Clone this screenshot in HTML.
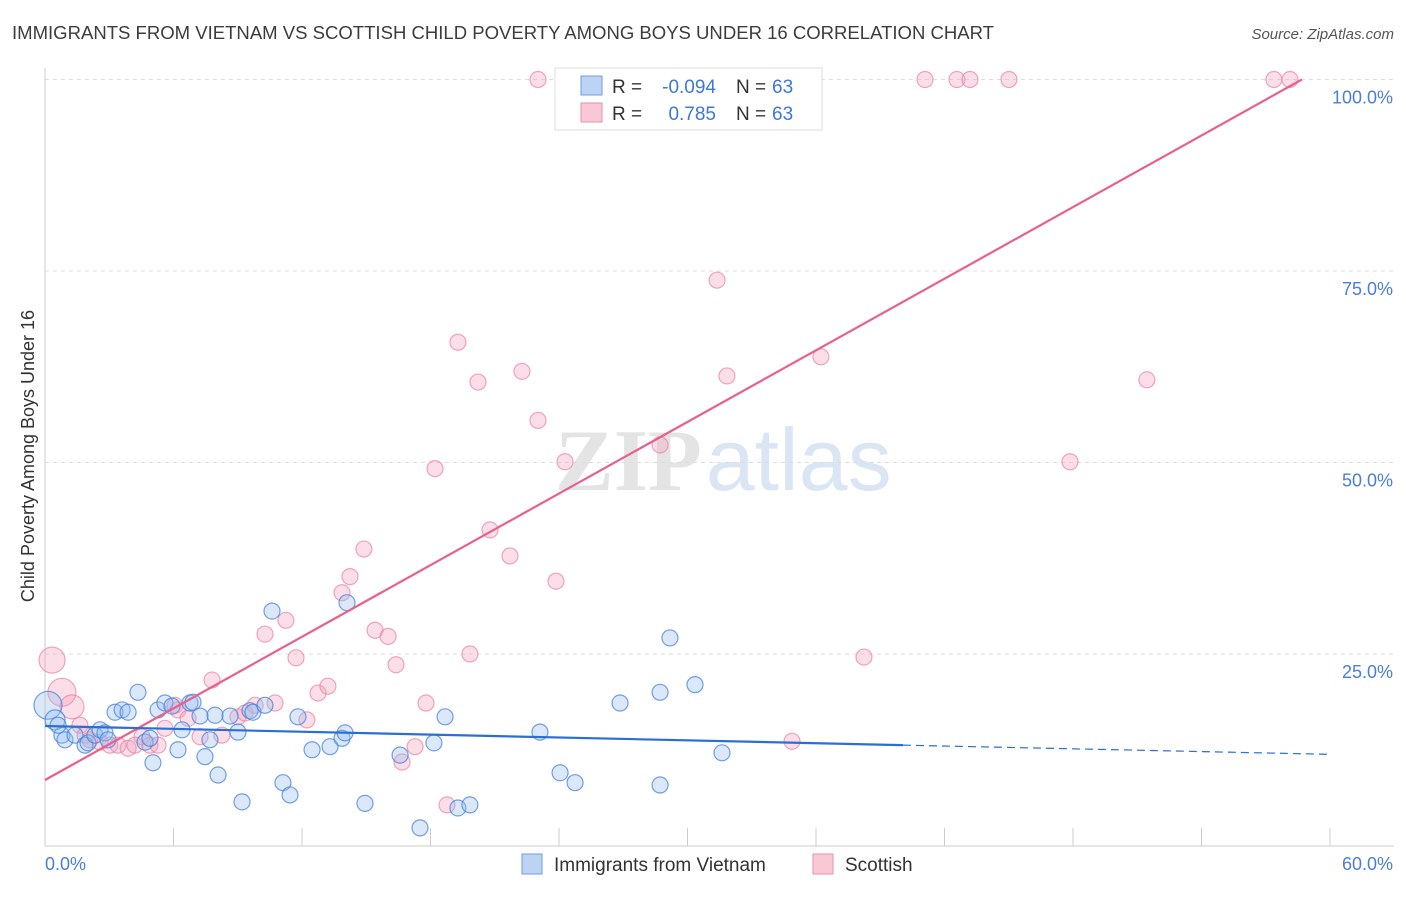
<!DOCTYPE html>
<html><head><meta charset="utf-8"><style>
body{margin:0;background:#fff;font-family:"Liberation Sans",sans-serif;}
svg text{font-family:"Liberation Sans",sans-serif;}
</style></head><body>
<svg id="chart" width="1406" height="892" xmlns="http://www.w3.org/2000/svg">
<text x="12" y="39" font-size="18" fill="#3c3c3c" textLength="982" lengthAdjust="spacingAndGlyphs">IMMIGRANTS FROM VIETNAM VS SCOTTISH CHILD POVERTY AMONG BOYS UNDER 16 CORRELATION CHART</text>
<text x="1394" y="39" font-size="15" fill="#555" text-anchor="end" font-style="italic">Source: ZipAtlas.com</text>
<text x="555" y="490" font-size="88"><tspan fill="#e4e4e4" font-family="Liberation Serif" font-weight="bold">ZIP</tspan><tspan fill="#dbe6f5" dx="4">atlas</tspan></text>
<g id="grid"></g><g id="axes"></g><g id="pts"></g><g id="lines"></g>
<text transform="translate(34,456) rotate(-90)" font-size="18" fill="#333" text-anchor="middle">Child Poverty Among Boys Under 16</text>
<text x="45" y="870" font-size="18" fill="#4a7fd4">0.0%</text>
<text x="1393" y="870" font-size="18" fill="#4a7fd4" text-anchor="end">60.0%</text>
<g>
<rect x="555" y="68" width="267" height="62" fill="#fff" stroke="#ddd"/>
<rect x="581" y="76" width="21" height="19" fill="#bcd3f3" stroke="#6e9fe0"/>
<rect x="581" y="103" width="21" height="19" fill="#f9c8d6" stroke="#eb8fab"/>
<text x="612" y="93" font-size="19" fill="#333">R =</text>
<text x="716" y="93" font-size="19" fill="#3d78d8" text-anchor="end">-0.094</text>
<text x="736" y="93" font-size="19" fill="#333">N =</text>
<text x="772" y="93" font-size="19" fill="#3d78d8">63</text>
<text x="612" y="120" font-size="19" fill="#333">R =</text>
<text x="716" y="120" font-size="19" fill="#3d78d8" text-anchor="end">0.785</text>
<text x="736" y="120" font-size="19" fill="#333">N =</text>
<text x="772" y="120" font-size="19" fill="#3d78d8">63</text>
</g>
<g>
<rect x="522" y="854" width="20" height="20" fill="#bcd3f3" stroke="#6e9fe0"/>
<text x="554" y="871" font-size="19" fill="#333">Immigrants from Vietnam</text>
<rect x="813" y="854" width="20" height="20" fill="#f9c8d6" stroke="#eb8fab"/>
<text x="845" y="871" font-size="19" fill="#333">Scottish</text>
</g>
</svg>
<script>
const blueX=[0.14,0.47,0.79,0.61,0.93,1.40,1.87,2.01,2.33,2.57,2.80,2.94,3.27,3.60,3.88,4.34,4.67,4.90,5.04,5.28,5.60,5.93,6.21,6.40,6.77,6.91,7.24,7.47,7.70,7.94,8.08,8.64,9.01,9.20,9.57,9.71,10.27,10.60,11.11,11.44,11.81,12.47,13.31,13.87,14.01,14.10,14.94,16.58,17.51,18.16,18.68,19.28,19.84,23.11,24.05,24.75,26.85,28.72,28.72,29.18,30.35,31.61];
const blueY=[18.3,16.4,14.4,15.7,13.8,14.4,13.1,13.4,14.4,15.1,14.7,13.8,17.4,17.7,17.4,20.0,13.5,14.0,10.8,17.7,18.6,18.2,12.5,15.1,18.6,18.7,16.9,11.6,13.8,17.0,9.2,16.9,14.8,5.7,17.6,17.4,18.3,30.6,8.2,6.6,16.8,12.5,12.9,14.0,14.7,31.7,5.5,11.8,2.3,13.4,16.8,4.9,5.3,14.8,9.5,8.2,18.6,20.0,7.9,27.1,21.0,12.1];
const pinkX=[0.33,0.79,1.26,1.63,1.87,2.10,2.57,3.03,3.41,3.88,4.20,4.53,4.90,5.28,5.60,6.07,6.21,6.68,7.24,7.80,8.26,9.01,9.34,9.81,10.27,10.74,11.25,11.72,12.23,12.75,13.21,13.87,14.24,14.89,15.41,16.02,16.39,16.67,17.28,17.79,18.21,18.77,19.28,19.84,20.22,20.78,21.71,22.27,23.02,23.02,23.86,24.28,27.31,28.72,31.38,31.84,34.88,36.23,38.24,41.09,42.58,43.19,45.01,47.86,51.45,57.38,58.13];
const pinkY=[24.2,20.0,18.1,15.7,14.4,13.8,13.5,13.1,13.1,12.7,13.1,14.2,13.1,13.1,15.3,18.3,17.7,16.6,14.2,21.6,14.4,16.8,17.3,18.3,27.6,18.6,29.4,24.5,16.4,19.9,20.8,33.0,35.1,38.7,28.1,27.3,23.6,10.9,12.9,18.6,49.2,5.3,65.7,25.0,60.5,41.2,37.8,61.9,100,55.5,34.5,50.1,100,52.3,73.8,61.3,13.6,63.8,24.6,100,100,100,100,50.1,60.8,100,100];
const yTicks=[25,50,75,100];
const yTickLabels=["25.0%","50.0%","75.0%","100.0%"];
const xTicks=[6,12,18,24,30,36,42,48,54,60];
const blueTrend=[15.6,13.1,11.9];
const blueTrendX=[0,40.06,60];
const pinkTrend=[8.55,100];
const pinkTrendX=[0,58.69];
const NS="http://www.w3.org/2000/svg";
const sx=v=>45+v/60*1285, sy=v=>845.5-v*7.66;
function mk(p,t,a){const e=document.createElementNS(NS,t);for(const k in a)e.setAttribute(k,a[k]);p.appendChild(e);return e;}
const grid=document.getElementById('grid'),axes=document.getElementById('axes'),pts=document.getElementById('pts'),lines=document.getElementById('lines');
yTicks.forEach((t,i)=>{
 const l=mk(grid,'line',{x1:45,x2:1394,y1:sy(t),y2:sy(t),stroke:'#ddd','stroke-dasharray':'4,4'});
 
 
 const tx=mk(grid,'text',{x:1393,y:sy(t)+24,'font-size':18,fill:'#4a7fd4','text-anchor':'end'});
 tx.textContent=yTickLabels[i];
 
 
});
const ax=mk(axes,'line',{x1:45,x2:45,y1:68,y2:846,stroke:'#ccc'});


const bx=mk(axes,'line',{x1:45,x2:1394,y1:846,y2:846,stroke:'#ccc'});


xTicks.forEach(t=>{
 const l=mk(axes,'line',{x1:sx(t),x2:sx(t),y1:828,y2:846,stroke:'#ccc'});
 
 
});
pinkX.forEach((x,i)=>{
 const r=i===0?13:i===1?14:i===2?12:8;
 const c=mk(pts,'circle',{cx:sx(x),cy:sy(pinkY[i]),r:r,fill:'rgba(244,160,185,0.35)',stroke:'rgba(235,130,160,0.7)','stroke-width':1.2});
 
 
});
blueX.forEach((x,i)=>{
 const r=i===0?14:i===1?10:8;
 const c=mk(pts,'circle',{cx:sx(x),cy:sy(blueY[i]),r:r,fill:'rgba(150,190,240,0.35)',stroke:'rgba(70,130,220,0.75)','stroke-width':1.2});
 
 
});
const pl=mk(lines,'line',{x1:sx(pinkTrendX[0]),y1:sy(pinkTrend[0]),x2:sx(pinkTrendX[1]),y2:sy(pinkTrend[1]),stroke:'#e8608c','stroke-width':2.2});


const bl=mk(lines,'line',{x1:sx(blueTrendX[0]),y1:sy(blueTrend[0]),x2:sx(blueTrendX[1]),y2:sy(blueTrend[1]),stroke:'#2a6fd6','stroke-width':2.2});


const bd=mk(lines,'line',{x1:sx(blueTrendX[1]),y1:sy(blueTrend[1]),x2:sx(blueTrendX[2]),y2:sy(blueTrend[2]),stroke:'#2a6fd6','stroke-width':1.2,'stroke-dasharray':'8,5'});


</script>
</body></html>
